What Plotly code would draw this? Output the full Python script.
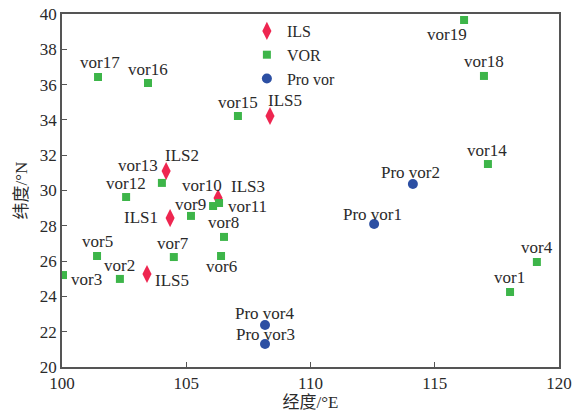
import plotly.graph_objects as go

# ---- data ----
ils_names = ["ILS5", "ILS2", "ILS3", "ILS1", "ILS5"]
ils_lon = [108.37, 104.19, 106.28, 104.35, 103.42]
ils_lat = [34.22, 31.10, 29.57, 28.44, 25.27]

vor_names = ["vor1", "vor2", "vor3", "vor4", "vor5", "vor6", "vor7", "vor8", "vor9",
             "vor10", "vor11", "vor12", "vor13", "vor14", "vor15", "vor16", "vor17",
             "vor18", "vor19"]
vor_lon = [118.03, 102.33, 100.04, 119.11, 101.41, 106.40, 104.50, 106.52, 105.19,
           106.08, 106.32, 102.58, 104.02, 117.14, 107.08, 103.46, 101.45,
           116.98, 116.18]
vor_lat = [24.25, 24.99, 25.21, 25.95, 26.29, 26.29, 26.23, 27.37, 28.56,
           29.12, 29.29, 29.63, 30.43, 31.50, 34.22, 36.09, 36.43,
           36.49, 39.66]

pro_names = ["Pro vor1", "Pro vor2", "Pro vor3", "Pro vor4"]
pro_lon = [112.56, 114.12, 108.17, 108.17]
pro_lat = [28.10, 30.37, 21.30, 22.38]

x_ticks = [100, 105, 110, 115, 120]
y_ticks = [20, 22, 24, 26, 28, 30, 32, 34, 36, 38, 40]

# ---- label offsets in pixels (dx, dy up) ----
ils_off = [(15, 16), (16, 16), (30, 12), (-29, 1), (25, -7)]
vor_off = [(-1, 14), (0, 13), (24, -4), (0, 14), (0, 14), (0, -11), (-1, 14), (-1, 14),
           (0, 11), (-11, 21), (28, -3), (0, 14), (-24, 17), (-1, 14), (0, 14),
           (0, 14), (2, 15), (0, 14), (-17, -14)]
pro_off = [(-2, 10), (-2, 11), (0, 10), (0, 11)]

RED = "#EE2650"
GREEN = "#3DB549"
BLUE = "#2C4FA3"
FONT = "Liberation Serif, Times New Roman, serif"
CJK = "Liberation Serif, Noto Sans CJK SC, serif"
TXT = "#2a2a2a"

fig = go.Figure()
fig.add_trace(go.Scatter(x=ils_lon, y=ils_lat, mode="markers", name="ILS",
                         marker=dict(symbol="diamond-tall", size=13, color=RED)))
fig.add_trace(go.Scatter(x=vor_lon, y=vor_lat, mode="markers", name="VOR",
                         marker=dict(symbol="square", size=8, color=GREEN)))
fig.add_trace(go.Scatter(x=pro_lon, y=pro_lat, mode="markers", name="Pro vor",
                         marker=dict(symbol="circle", size=10, color=BLUE)))

for names, xs, ys, offs in [(ils_names, ils_lon, ils_lat, ils_off),
                            (vor_names, vor_lon, vor_lat, vor_off),
                            (pro_names, pro_lon, pro_lat, pro_off)]:
    for n, xv, yv, (dx, dy) in zip(names, xs, ys, offs):
        fig.add_annotation(x=xv, y=yv, xref="x", yref="y", text=n, showarrow=False,
                           xanchor="center", yanchor="middle", xshift=dx, yshift=dy,
                           font=dict(family=FONT, size=17, color=TXT))

axis_common = dict(showgrid=False, zeroline=False, showline=True, linecolor="#555",
                   linewidth=1.5, mirror=True, ticks="inside", ticklen=5, tickcolor="#555",
                   tickwidth=1.2, automargin=False,
                   tickfont=dict(family=FONT, size=17, color=TXT))

fig.update_xaxes(range=[100, 120], tickvals=x_ticks, **axis_common,
                 title=dict(text="经度/°E", font=dict(family=CJK, size=17, color=TXT),
                            standoff=4))
fig.update_yaxes(range=[20, 40], tickvals=y_ticks, **axis_common,
                 title=dict(text="纬度/°N", font=dict(family=CJK, size=17, color=TXT),
                            standoff=8))

fig.update_layout(
    width=574, height=417,
    margin=dict(l=62, r=15, t=14, b=50, autoexpand=False),
    plot_bgcolor="white", paper_bgcolor="white",
    legend=dict(x=0.372, y=1.0, xanchor="left", yanchor="top",
                bgcolor="rgba(0,0,0,0)", font=dict(family=FONT, size=16, color=TXT),
                itemwidth=30, tracegroupgap=0),
)

fig.write_html("out.html", config={"displayModeBar": False},
               post_script="document.body.style.margin='0';")
